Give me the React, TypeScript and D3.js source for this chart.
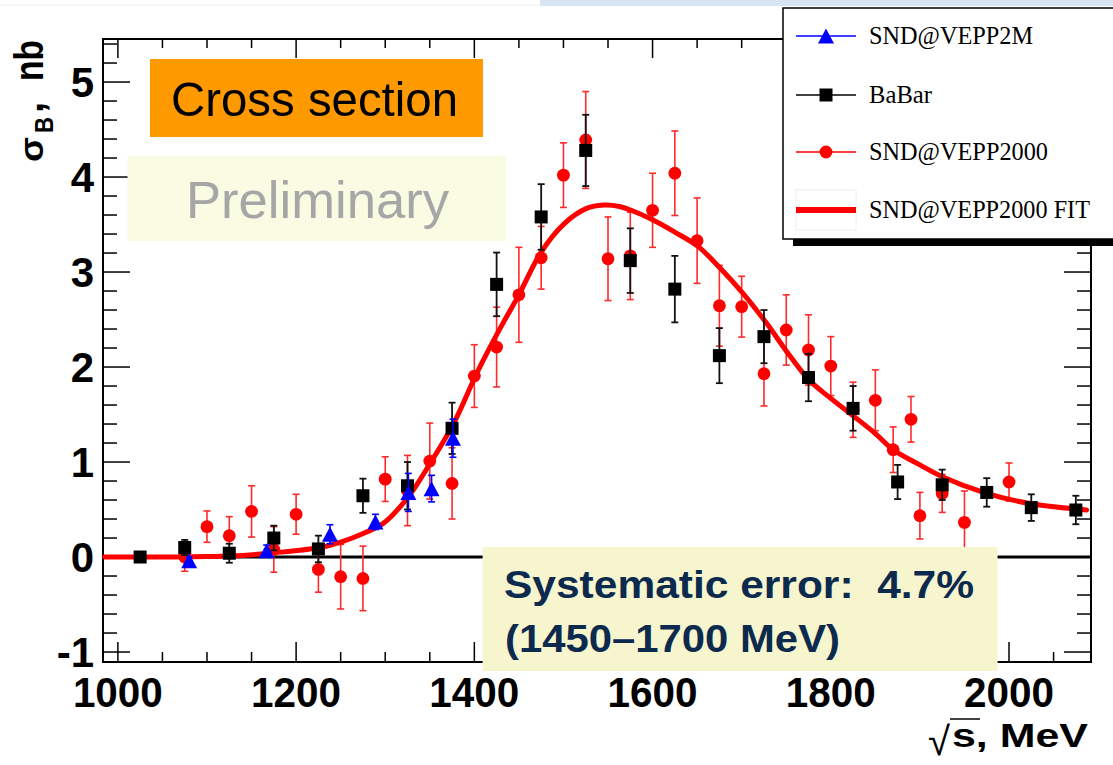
import React from 'react';
import * as d3 from 'd3';

// ---------- data ----------
const xTickValues = [1000, 1200, 1400, 1600, 1800, 2000];
const yTickValues = [-1, 0, 1, 2, 3, 4, 5];

const babarE = [1025, 1075, 1125, 1175, 1225, 1275, 1325, 1375, 1425, 1475, 1525, 1575, 1625, 1675, 1725, 1775, 1825, 1875, 1925, 1975, 2025, 2075];
const babarV = [0.0, 0.1, 0.04, 0.2, 0.085, 0.645, 0.75, 1.355, 2.87, 3.58, 4.28, 3.12, 2.82, 2.12, 2.32, 1.89, 1.565, 0.79, 0.76, 0.68, 0.52, 0.495];
const babarErr = [0.03, 0.08, 0.1, 0.13, 0.14, 0.18, 0.25, 0.27, 0.335, 0.345, 0.375, 0.34, 0.35, 0.29, 0.28, 0.25, 0.235, 0.18, 0.16, 0.15, 0.14, 0.15];

const sndE = [1075, 1100, 1125, 1150, 1175, 1200, 1225, 1250, 1275, 1300, 1325, 1350, 1375, 1400, 1425, 1450, 1475, 1500, 1525, 1550, 1575, 1600, 1625, 1650, 1675, 1700, 1725, 1750, 1775, 1800, 1825, 1850, 1870, 1890, 1900, 1925, 1950, 2000];
const sndV = [0.0, 0.32, 0.225, 0.48, 0.08, 0.45, -0.13, -0.207, -0.225, 0.82, 0.7, 1.01, 0.775, 1.905, 2.21, 2.76, 3.15, 4.02, 4.39, 3.14, 3.17, 3.65, 4.04, 3.33, 2.645, 2.635, 1.93, 2.39, 2.18, 2.01, 1.55, 1.65, 1.13, 1.45, 0.435, 0.67, 0.365, 0.79];
const sndErr = [0.15, 0.165, 0.2, 0.27, 0.24, 0.21, 0.24, 0.34, 0.34, 0.235, 0.37, 0.4, 0.375, 0.33, 0.42, 0.5, 0.33, 0.34, 0.51, 0.44, 0.46, 0.39, 0.445, 0.45, 0.425, 0.32, 0.34, 0.37, 0.37, 0.31, 0.29, 0.32, 0.24, 0.24, 0.245, 0.2, 0.33, 0.2];

const vepp2mE = [1080, 1167, 1238, 1289, 1326, 1352, 1376];
const vepp2mV = [-0.04, 0.066, 0.24, 0.37, 0.68, 0.72, 1.25];
const vepp2mErr = [0.04, 0.06, 0.1, 0.08, 0.2, 0.14, 0.2];

const fitE = [985, 1036, 1100, 1126, 1176, 1227, 1251, 1276, 1298, 1326, 1350, 1377, 1401, 1416, 1432, 1450, 1475, 1501, 1526, 1545, 1563, 1576, 1600, 1625, 1651, 1676, 1701, 1728, 1750, 1776, 1800, 1826, 1850, 1870, 1900, 1925, 1975, 2025, 2087];
const fitV = [0, 0.0, 0.005, 0.01, 0.045, 0.1, 0.16, 0.25, 0.355, 0.635, 0.98, 1.41, 1.9, 2.18, 2.46, 2.76, 3.21, 3.51, 3.67, 3.705, 3.69, 3.65, 3.55, 3.42, 3.27, 3.04, 2.78, 2.46, 2.17, 1.86, 1.67, 1.48, 1.3, 1.13, 0.97, 0.845, 0.67, 0.56, 0.495];

const legendLabels = ['SND@VEPP2M', 'BaBar', 'SND@VEPP2000', 'SND@VEPP2000 FIT'];
const titleCross = 'Cross section';
const titlePrelim = 'Preliminary';
const sysLine1 = 'Systematic error:\u00a0\u00a04.7%';
const sysLine2 = '(1450\u20131700 MeV)';

// ---------- layout ----------
const W = 1113;
const H = 765;
const L = 103, R = 1091, T = 39, B = 662;
const SANS = '"Liberation Sans", Arial, Helvetica, sans-serif';
const SERIF = '"Liberation Serif", "Times New Roman", serif';

export default function App() {
  const x = d3.scaleLinear().domain([983.3, 2092]).range([L, R]);
  const y = d3.scaleLinear().domain([-1.105, 5.453]).range([B, T]);

  const xMinor = d3.range(1000, 2092, 50).filter((v) => !xTickValues.includes(v));
  const yMinor = d3.range(-1, 5.45, 0.2).map((v) => Math.round(v * 10) / 10).filter((v) => !yTickValues.includes(v));

  const fitLine = d3
    .line<number>()
    .x((_, i) => x(fitE[i]))
    .y((d) => y(d))
    .curve(d3.curveCatmullRom.alpha(0.5));

  const cap = 3.5;
  const errBar = (e: number, v: number, err: number, color: string, sw: number, key: string) => (
    <g key={key} stroke={color} strokeWidth={sw}>
      <line x1={x(e)} x2={x(e)} y1={y(v - err)} y2={y(v + err)} />
      <line x1={x(e) - cap} x2={x(e) + cap} y1={y(v - err)} y2={y(v - err)} />
      <line x1={x(e) - cap} x2={x(e) + cap} y1={y(v + err)} y2={y(v + err)} />
    </g>
  );

  const tri = (cx: number, cy: number) =>
    `M${cx},${cy - 7.5}L${cx + 8},${cy + 7.5}L${cx - 8},${cy + 7.5}Z`;

  const legendRows = [36, 95, 152, 210];
  const legendWidths = [164, 63, 179, 221];

  return (
    <svg width={W} height={H} style={{ position: 'absolute', left: 0, top: 0, background: '#fff' }}>
      <rect x={0} y={0} width={W} height={H} fill="#fff" />
      {/* slide remnants at top */}
      <line x1={0} x2={540} y1={5} y2={5} stroke="#f0f0f0" strokeWidth={1} />
      <rect x={540} y={0} width={W - 540} height={6} fill="#c9d8ec" opacity={0.7} />

      {/* zero line */}
      <line x1={L} x2={R} y1={y(0)} y2={y(0)} stroke="#000" strokeWidth={3} />

      {/* frame */}
      <rect x={L} y={T} width={R - L} height={B - T} fill="none" stroke="#000" strokeWidth={2} />

      {/* x ticks */}
      <g stroke="#000" strokeWidth={1.5}>
        {xTickValues.map((v) => (
          <g key={'xt' + v}>
            <line x1={x(v)} x2={x(v)} y1={B} y2={B - 20} />
            <line x1={x(v)} x2={x(v)} y1={T} y2={T + 19} />
          </g>
        ))}
        {xMinor.map((v) => (
          <g key={'xm' + v}>
            <line x1={x(v)} x2={x(v)} y1={B} y2={B - 10} />
            <line x1={x(v)} x2={x(v)} y1={T} y2={T + 9} />
          </g>
        ))}
        {yTickValues.map((v) => (
          <g key={'yt' + v}>
            <line x1={L} x2={L + 27} y1={y(v)} y2={y(v)} />
            <line x1={R} x2={R - 27} y1={y(v)} y2={y(v)} />
          </g>
        ))}
        {yMinor.map((v) => (
          <g key={'ym' + v}>
            <line x1={L} x2={L + 14} y1={y(v)} y2={y(v)} />
            <line x1={R} x2={R - 14} y1={y(v)} y2={y(v)} />
          </g>
        ))}
      </g>

      {/* tick labels */}
      <g fontFamily={SANS} fontWeight="bold" fontSize={42} fill="#000">
        {xTickValues.map((v) => (
          <text key={'xl' + v} x={x(v)} y={707} textAnchor="middle" textLength={90} lengthAdjust="spacingAndGlyphs">
            {v}
          </text>
        ))}
        {yTickValues.map((v) => (
          <text key={'yl' + v} x={94} y={y(v) + 15} textAnchor="end">
            {v}
          </text>
        ))}
      </g>

      {/* axis titles */}
      <g fontFamily={SANS} fontWeight="bold" fill="#000">
        <text transform="translate(43,162) rotate(-90)" fontSize={34} textLength={25} lengthAdjust="spacingAndGlyphs">σ</text>
        <text transform="translate(53,133) rotate(-90)" fontSize={25} textLength={16} lengthAdjust="spacingAndGlyphs">B</text>
        <text transform="translate(43,113) rotate(-90)" fontSize={40}>,</text>
        <text transform="translate(43,81) rotate(-90)" fontSize={41} textLength={41} lengthAdjust="spacingAndGlyphs">nb</text>
        <text x={928} y={755} fontSize={40} fontWeight="normal">√</text>
        <line x1={950} x2={980} y1={719} y2={719} stroke="#000" strokeWidth={1.5} />
        <text x={952} y={747} fontSize={34} textLength={136} lengthAdjust="spacingAndGlyphs">s, MeV</text>
      </g>

      {/* annotation boxes */}
      <rect x={150} y={59} width={333} height={78} fill="#FF9900" />
      <text x={171} y={116} fontFamily={SANS} fontSize={49} fill="#000" textLength={287} lengthAdjust="spacingAndGlyphs">{titleCross}</text>
      <rect x={127.5} y={156} width={378.5} height={85} fill="#F9FBE2" />
      <text x={186} y={218} fontFamily={SANS} fontSize={52} fill="#A6A6A6" textLength={263} lengthAdjust="spacingAndGlyphs">{titlePrelim}</text>

      {/* SND@VEPP2000 */}
      {sndE.map((e, i) => errBar(e, sndV[i], sndErr[i], '#ff2a2a', 1.6, 'se' + i))}
      {sndE.map((e, i) => (
        <circle key={'sc' + i} cx={x(e)} cy={y(sndV[i])} r={6.4} fill="#ff0000" />
      ))}

      {/* fit */}
      <path d={fitLine(fitV) || ''} fill="none" stroke="#ff0000" strokeWidth={5} strokeLinejoin="round" strokeLinecap="round" />

      {/* BaBar */}
      {babarE.map((e, i) => errBar(e, babarV[i], babarErr[i], '#111', 1.8, 'be' + i))}
      {babarE.map((e, i) => (
        <rect key={'bs' + i} x={x(e) - 6.5} y={y(babarV[i]) - 6.5} width={13} height={13} fill="#000" />
      ))}

      {/* SND@VEPP2M */}
      {vepp2mE.map((e, i) => errBar(e, vepp2mV[i], vepp2mErr[i], '#0000ff', 1.6, 've' + i))}
      {vepp2mE.map((e, i) => (
        <path key={'vt' + i} d={tri(x(e), y(vepp2mV[i]))} fill="#0000ff" />
      ))}

      {/* systematic error box */}
      <rect x={482.6} y={547} width={515} height={124} fill="#F7F5CD" />
      <g fontFamily={SANS} fontWeight="bold" fontSize={39} fill="#0B2A4E">
        <text x={504} y={598} textLength={470} lengthAdjust="spacingAndGlyphs">{sysLine1}</text>
        <text x={505} y={652} textLength={335} lengthAdjust="spacingAndGlyphs">{sysLine2}</text>
      </g>

      {/* legend */}
      <rect x={793} y={239} width={W} height={7} fill="#000" />
      <rect x={783} y={8} width={W} height={231} fill="#fff" stroke="#000" strokeWidth={1.5} />
      <rect x={796} y={190} width={60} height={40} fill="none" stroke="#eeeeee" strokeWidth={1} />
      <line x1={796} x2={856} y1={legendRows[0]} y2={legendRows[0]} stroke="#0000ff" strokeWidth={1.5} />
      <path d={tri(826, legendRows[0])} fill="#0000ff" />
      <line x1={796} x2={856} y1={legendRows[1]} y2={legendRows[1]} stroke="#000" strokeWidth={1.5} />
      <rect x={826 - 6.5} y={legendRows[1] - 6.5} width={13} height={13} fill="#000" />
      <line x1={796} x2={856} y1={legendRows[2]} y2={legendRows[2]} stroke="#ff0000" strokeWidth={1.5} />
      <circle cx={826} cy={legendRows[2]} r={6.4} fill="#ff0000" />
      <line x1={796} x2={856} y1={legendRows[3]} y2={legendRows[3]} stroke="#ff0000" strokeWidth={6} />
      <g fontFamily={SERIF} fontSize={25} fill="#000">
        {legendLabels.map((t, i) => (
          <text key={'lg' + i} x={869} y={legendRows[i] + 8} textLength={legendWidths[i]} lengthAdjust="spacingAndGlyphs">
            {t}
          </text>
        ))}
      </g>
    </svg>
  );
}
